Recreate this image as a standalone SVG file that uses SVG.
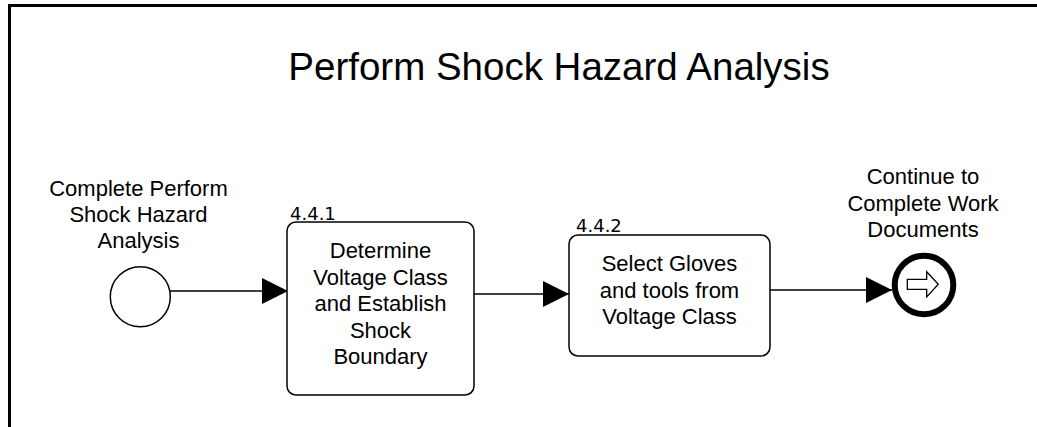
<svg xmlns="http://www.w3.org/2000/svg" width="1037" height="427" viewBox="0 0 1037 427">
<style>
  text { font-family: "Liberation Sans", Arial, sans-serif; fill: #000; }
  .lbl { font-size: 22px; text-anchor: middle; }
  .num { font-family: "DejaVu Sans", sans-serif; font-size: 18px; }
  .title { font-size: 38.5px; text-anchor: middle; }
  .task { fill: #fff; stroke: #000; stroke-width: 1.5; }
  .conn { fill: none; stroke: #000; stroke-width: 1.5; marker-end: url(#arrow); }
</style>
<defs>
  <marker id="arrow" markerUnits="userSpaceOnUse" viewBox="0 0 26 26" refX="26" refY="13" markerWidth="26" markerHeight="26" orient="auto">
    <path d="M0,0 L26,13 L0,26 Z" fill="#000"/>
  </marker>
</defs>
<rect x="0" y="0" width="1037" height="427" fill="#fff"/>
<path d="M9.5,427 V5.5 H1037" fill="none" stroke="#000" stroke-width="3"/>
<text class="title" x="559" y="80">Perform Shock Hazard Analysis</text>

<g id="connectors">
  <path class="conn" d="M170,291 H288"/>
  <path class="conn" d="M474,294 H569"/>
  <path class="conn" d="M770,290 H892"/>
</g>

<g id="start">
  <circle cx="140.3" cy="296.7" r="30" fill="#fff" stroke="#000" stroke-width="1.5"/>
  <text class="lbl" x="138.5" y="196">Complete Perform</text>
  <text class="lbl" x="138.5" y="222.3">Shock Hazard</text>
  <text class="lbl" x="138.5" y="248.3">Analysis</text>
</g>

<g id="task441">
  <rect class="task" x="287" y="222" width="187" height="173" rx="9"/>
  <text class="num" x="290" y="219.5">4.4.1</text>
  <text class="lbl" x="380.5" y="258.3">Determine</text>
  <text class="lbl" x="380.5" y="284.8">Voltage Class</text>
  <text class="lbl" x="380.5" y="311.3">and Establish</text>
  <text class="lbl" x="380.5" y="337.8">Shock</text>
  <text class="lbl" x="380.5" y="364.3">Boundary</text>
</g>

<g id="task442">
  <rect class="task" x="569" y="235" width="201" height="121" rx="9"/>
  <text class="num" x="576" y="231.5">4.4.2</text>
  <text class="lbl" x="669.5" y="271">Select Gloves</text>
  <text class="lbl" x="669.5" y="297.5">and tools from</text>
  <text class="lbl" x="669.5" y="324">Voltage Class</text>
</g>

<g id="end">
  <circle cx="924" cy="285" r="29.3" fill="#fff" stroke="#000" stroke-width="6"/>
  <path d="M907.3,279.3 H926.7 V271.7 L938.3,284.3 L926.7,296.9 V289.3 H907.3 Z" fill="#fff" stroke="#000" stroke-width="1.3" stroke-linejoin="miter"/>
  <text class="lbl" x="923" y="184">Continue to</text>
  <text class="lbl" x="923" y="210.7">Complete Work</text>
  <text class="lbl" x="923" y="236.7">Documents</text>
</g>
</svg>
